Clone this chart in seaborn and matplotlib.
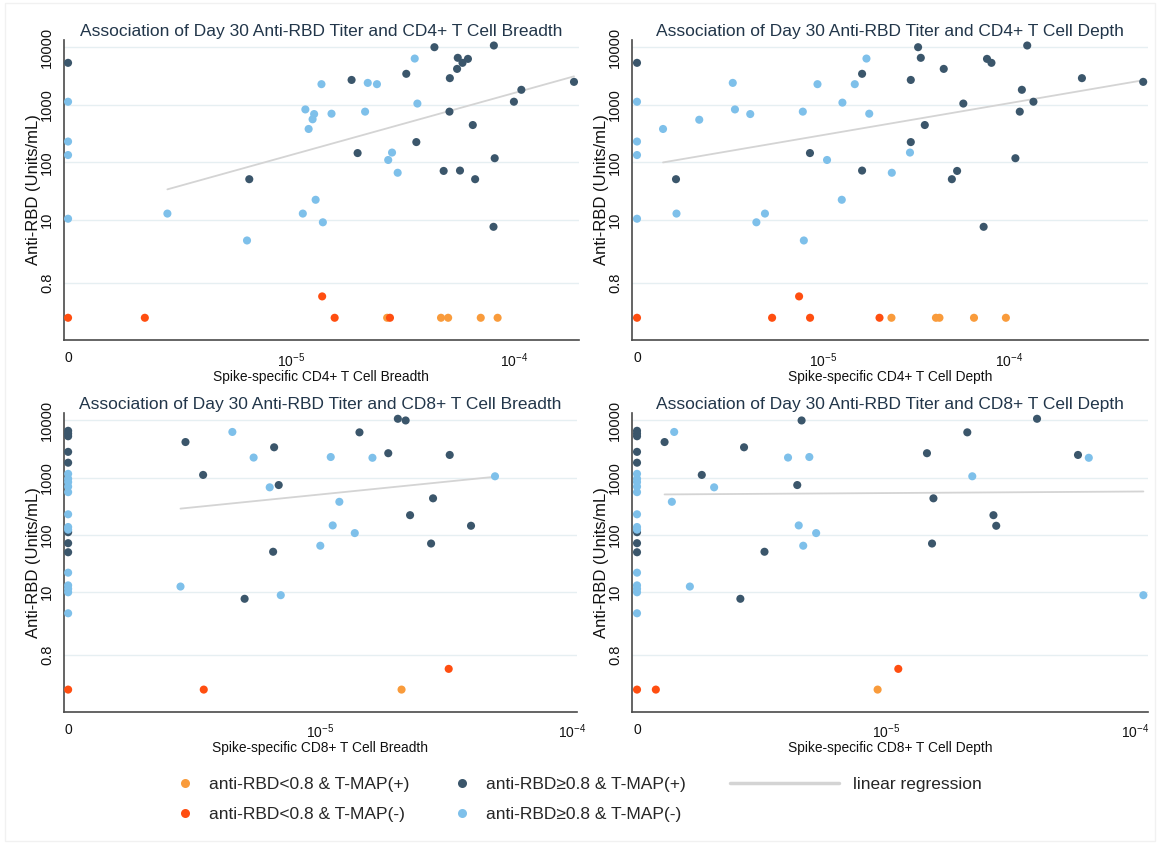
import numpy as np
import pandas as pd
import matplotlib
matplotlib.use("Agg")
import matplotlib.pyplot as plt
import seaborn as sns
from matplotlib.lines import Line2D
from matplotlib.patches import Rectangle
from matplotlib.ticker import NullLocator

# ---------------- data ----------------
GROUP_CODES = ["O", "R", "D", "L"]
GROUP_LABELS = ["anti-RBD<0.8 & T-MAP(+)", "anti-RBD<0.8 & T-MAP(-)",
                "anti-RBD\u22650.8 & T-MAP(+)", "anti-RBD\u22650.8 & T-MAP(-)"]
TITLES = ["Association of Day 30 Anti-RBD Titer and CD4+ T Cell Breadth",
          "Association of Day 30 Anti-RBD Titer and CD4+ T Cell Depth",
          "Association of Day 30 Anti-RBD Titer and CD8+ T Cell Breadth",
          "Association of Day 30 Anti-RBD Titer and CD8+ T Cell Depth"]
XLABELS = ["Spike-specific CD4+ T Cell Breadth", "Spike-specific CD4+ T Cell Depth",
           "Spike-specific CD8+ T Cell Breadth", "Spike-specific CD8+ T Cell Depth"]
YLABEL = "Anti-RBD (Units/mL)"
YTICKS = [0.8, 10, 100, 1000, 10000]
YTICK_LABELS = ["0.8", "10", "100", "1000", "10000"]
XTICKS = [0, 1e-5, 1e-4]
XTICK_LABELS = ["0", r"$10^{-5}$", r"$10^{-4}$"]
REG_LABEL = "linear regression"

# Panel 1: CD4+ breadth
cd4_breadth_x = [0, 0, 0, 0, 2.79e-6, 6.35e-6, 1.13e-5, 1.29e-5, 1.39e-5, 1.16e-5, 1.27e-5, 1.25e-5,
                 1.20e-5, 1.37e-5, 1.52e-5, 2.15e-5, 2.21e-5, 2.43e-5, 2.73e-5, 2.84e-5, 3.01e-5, 3.59e-5, 3.69e-5,
                 0, 6.5e-6, 1.87e-5, 1.99e-5, 3.29e-5, 3.65e-5, 4.4e-5, 4.84e-5, 5.14e-5, 5.16e-5, 5.56e-5,
                 5.6e-5, 5.73e-5, 5.88e-5, 6.22e-5, 6.54e-5, 6.7e-5, 8.13e-5, 8.2e-5, 8.1e-5, 1.0e-4, 1.08e-4, 1.86e-4,
                 0, 2.21e-6, 1.38e-5, 1.57e-5, 2.78e-5,
                 2.70e-5, 4.71e-5, 5.07e-5, 7.1e-5, 8.45e-5]
cd4_breadth_y = [1130, 230, 134, 10.5, 12.9, 4.4, 12.9, 22.4, 9.1, 830, 690, 560,
                 380, 2280, 700, 760, 2400, 2280, 110, 148, 66, 6350, 1050,
                 5350, 51, 2700, 145, 3450, 225, 10000, 71, 760, 2900, 4200,
                 6540, 72, 5350, 6270, 445, 51, 10700, 118, 7.6, 1130, 1820, 2500,
                 0.2, 0.2, 0.47, 0.2, 0.2,
                 0.2, 0.2, 0.2, 0.2, 0.2]
cd4_breadth_g = ["L"] * 23 + ["D"] * 23 + ["R"] * 5 + ["O"] * 5

# Panel 2: CD4+ depth
cd4_depth_x = [0, 0, 0, 0, 1.38e-6, 1.63e-6, 2.16e-6, 3.27e-6, 3.36e-6, 4.06e-6, 4.38e-6, 4.87e-6,
               7.78e-6, 7.88e-6, 9.33e-6, 1.05e-5, 1.26e-5, 1.27e-5, 1.48e-5, 1.71e-5, 1.77e-5, 2.34e-5, 2.93e-5,
               0, 1.62e-6, 8.5e-6, 1.62e-5, 1.62e-5, 2.96e-5, 2.96e-5, 3.24e-5, 3.35e-5, 3.52e-5, 4.45e-5,
               4.92e-5, 5.25e-5, 5.67e-5, 7.29e-5, 7.6e-5, 8.03e-5, 1.08e-4, 1.14e-4, 1.17e-4, 1.25e-4,
               1.35e-4, 2.46e-4, 5.25e-4,
               0, 5.32e-6, 7.43e-6, 8.51e-6, 2.01e-5,
               2.33e-5, 4.04e-5, 4.22e-5, 6.47e-5, 9.6e-5]
cd4_depth_y = [1130, 230, 134, 10.5, 380, 12.9, 550, 2400, 830, 690, 9.1, 12.9,
               760, 4.4, 2280, 110, 22.4, 1090, 2280, 6350, 700, 66, 148,
               5350, 51, 145, 3450, 72, 2700, 225, 10000, 6540, 445, 4200,
               51, 71, 1050, 7.6, 6270, 5350, 118, 760, 1820, 10700,
               1130, 2900, 2500,
               0.2, 0.2, 0.47, 0.2, 0.2,
               0.2, 0.2, 0.2, 0.2, 0.2]
cd4_depth_g = ["L"] * 23 + ["D"] * 24 + ["R"] * 5 + ["O"] * 5

# Panel 3: CD8+ breadth
cd8_breadth_x = [0, 0, 0, 0, 0, 0, 0, 0,
                 2.92e-6, 3.43e-6, 6.56e-6, 6.84e-6, 6.5e-6, 5.01e-6, 1.43e-5, 1.86e-5, 2.03e-5, 2.18e-5,
                 2.27e-5, 2.75e-5, 2.80e-5, 3.26e-5, 3.96e-5,
                 0, 0, 0, 0, 0, 0, 0, 0, 0, 0, 0, 0, 0,
                 2.79e-6, 4.48e-6, 5.44e-6, 6.3e-6, 6.97e-6, 1.0e-5, 1.10e-5, 1.12e-5, 1.19e-5, 1.37e-5,
                 1.61e-5, 4.93e-5,
                 0, 3.45e-6, 3.23e-5,
                 2.1e-5]
cd8_breadth_y = [6600, 5900, 5300, 2830, 1830, 112, 72, 50,
                 4200, 1120, 3400, 745, 51, 7.7, 6200, 2680, 10700, 10000,
                 222, 71, 437, 2500, 145,
                 1170, 960, 840, 700, 560, 230, 138, 124, 22, 13.2, 11.5, 10, 4.3,
                 12.6, 6300, 2250, 680, 8.9, 65, 2300, 147, 380, 108,
                 2230, 1060,
                 0.2, 0.2, 0.46,
                 0.2]
cd8_breadth_g = ["D"] * 23 + ["L"] * 25 + ["R"] * 3 + ["O"] * 1

# Panel 4: CD8+ depth
cd8_depth_x = [0, 0, 0, 0, 0, 0, 0, 0,
               1.29e-6, 1.82e-6, 2.69e-6, 2.6e-6, 3.25e-6, 4.4e-6, 4.58e-6, 1.46e-5, 1.55e-5, 1.53e-5,
               2.12e-5, 2.70e-5, 2.77e-5, 4.04e-5, 5.9e-5,
               0, 0, 0, 0, 0, 0, 0, 0, 0, 0, 0, 0, 0,
               1.38e-6, 1.41e-6, 1.63e-6, 2.04e-6, 4.04e-6, 4.46e-6, 4.65e-6, 4.92e-6, 5.24e-6, 2.22e-5,
               6.52e-5, 1.08e-4,
               0, 1.19e-6, 1.12e-5,
               9.25e-6]
cd8_depth_y = [6600, 5900, 5300, 2830, 1830, 112, 72, 50,
               4200, 1120, 3400, 7.7, 51, 745, 10000, 2680, 437, 71,
               6200, 222, 145, 10700, 2500,
               1170, 960, 840, 700, 560, 230, 138, 124, 22, 13.2, 11.5, 10, 4.3,
               380, 6300, 12.6, 680, 2250, 147, 65, 2300, 108, 1060,
               2230, 8.9,
               0.2, 0.2, 0.46,
               0.2]
cd8_depth_g = ["D"] * 23 + ["L"] * 25 + ["R"] * 3 + ["O"] * 1

# ---------------- style ----------------
PALETTE = dict(zip(GROUP_LABELS, ["#F99B3B", "#FF4E10", "#3B566B", "#7EC0EA"]))
REG_COLOR = "#D4D4D4"
GRID_COLOR = "#E6EFF2"
TITLE_COLOR = "#22364A"
SPINE_COLOR = "#4A4A4A"
ZERO_POS = 1e-6

sns.set_theme(style="white")
plt.rcParams["font.family"] = ["Liberation Sans", "DejaVu Sans"]
plt.rcParams["mathtext.fontset"] = "custom"
plt.rcParams["mathtext.rm"] = "Liberation Sans"
plt.rcParams["mathtext.it"] = "Liberation Sans:italic"
plt.rcParams["mathtext.bf"] = "Liberation Sans:bold"

W, H = 1160, 844
fig = plt.figure(figsize=(W / 100, H / 100), dpi=100)
fig.patch.set_facecolor("white")
fig.patches.append(Rectangle((5 / W, 3 / H), (W - 10) / W, (H - 6) / H, transform=fig.transFigure,
                             fill=False, ec="#F1F1F1", lw=1))

boxes = [(63.6, 40, 579, 340), (631.8, 40, 1148, 340),
         (63.6, 413.3, 577, 711.7), (631.8, 413.3, 1148, 711.7)]
xlims_log = [(-6.02, -3.708), (-6.028, -3.254), (-6.018, -3.982), (-6.021, -3.948)]
ylim_log = (-1.085, 4.125)

panels = [(cd4_breadth_x, cd4_breadth_y, cd4_breadth_g),
          (cd4_depth_x, cd4_depth_y, cd4_depth_g),
          (cd8_breadth_x, cd8_breadth_y, cd8_breadth_g),
          (cd8_depth_x, cd8_depth_y, cd8_depth_g)]

code_to_label = dict(zip(GROUP_CODES, GROUP_LABELS))
order_of = {lab: i for i, lab in enumerate(GROUP_LABELS)}

for i, (xs, ys, gs) in enumerate(panels):
    l, t, r, b = boxes[i]
    ax = fig.add_axes([l / W, 1 - b / H, (r - l) / W, (b - t) / H])
    df = pd.DataFrame({"x": xs, "y": ys, "g": [code_to_label[g] for g in gs]})
    df["o"] = df["g"].map(order_of)
    df = df.sort_values("o", kind="stable")
    df["xp"] = np.where(df["x"] > 0, df["x"], ZERO_POS)

    ax.set_xscale("log")
    ax.set_yscale("log")
    for yt in YTICKS:
        ax.axhline(yt, color=GRID_COLOR, lw=1.0, zorder=0)

    fit = df[(df["x"] > 0) & (df["y"] >= 0.8)]
    lx = np.log10(fit["x"].to_numpy())
    ly = np.log10(fit["y"].to_numpy())
    slope, icpt = np.polyfit(lx, ly, 1)
    xx = np.array([lx.min(), lx.max()])
    sns.lineplot(x=10 ** xx, y=10 ** (icpt + slope * xx), ax=ax, color=REG_COLOR, lw=1.3,
                 zorder=2, legend=False)

    sns.scatterplot(data=df, x="xp", y="y", hue="g", hue_order=GROUP_LABELS, palette=PALETTE,
                    s=34, linewidth=0, legend=False, ax=ax, zorder=3)

    ax.set_xlim(10 ** xlims_log[i][0], 10 ** xlims_log[i][1])
    ax.set_ylim(10 ** ylim_log[0], 10 ** ylim_log[1])
    ax.set_xticks([x if x > 0 else ZERO_POS for x in XTICKS])
    ax.set_xticklabels(XTICK_LABELS)
    ax.set_yticks(YTICKS)
    ax.set_yticklabels(YTICK_LABELS, rotation=90, va="center")
    ax.xaxis.set_minor_locator(NullLocator())
    ax.yaxis.set_minor_locator(NullLocator())
    ax.tick_params(axis="both", which="major", direction="out", length=4, width=1,
                   color="#777777", labelcolor="#111111", pad=3)
    ax.tick_params(axis="y", labelsize=10.5)
    ax.tick_params(axis="x", labelsize=10, pad=4)
    for side in ["top", "right"]:
        ax.spines[side].set_visible(False)
    for side in ["left", "bottom"]:
        ax.spines[side].set_color(SPINE_COLOR)
        ax.spines[side].set_linewidth(1.2)
    ax.set_facecolor("white")
    ax.set_title(TITLES[i], fontsize=12.5, color=TITLE_COLOR, pad=3)
    ax.set_xlabel(XLABELS[i], fontsize=9.9, color="#111111", labelpad=0)
    ax.set_ylabel(YLABEL, fontsize=12, color="#111111", labelpad=-1)

# ---------------- legend ----------------
fs = 12.5
handles = [Line2D([0], [0], marker="o", ls="none", markersize=6.5, markeredgewidth=0,
                  markerfacecolor=PALETTE[lab]) for lab in GROUP_LABELS]
fig.legend(handles, GROUP_LABELS, ncol=2, loc="upper left",
           bbox_to_anchor=(178 / W, 1 - 777 / H), frameon=False, borderpad=0, borderaxespad=0,
           handlelength=0.8, handletextpad=1.0, columnspacing=2.6, labelspacing=0.85, fontsize=fs)
fig.legend([Line2D([0], [0], color=REG_COLOR, lw=2.5)], [REG_LABEL], loc="upper left",
           bbox_to_anchor=(730 / W, 1 - 777 / H), frameon=False, borderpad=0, borderaxespad=0,
           handlelength=6.26, handletextpad=0.8, fontsize=fs)

fig.savefig("out.png", dpi=100, facecolor="white")
